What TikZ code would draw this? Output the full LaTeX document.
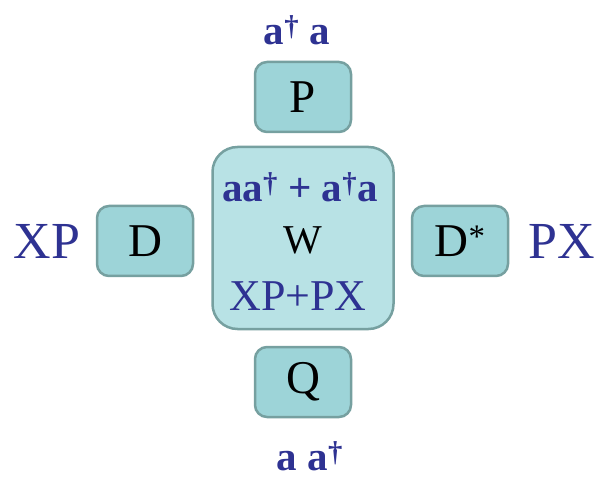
\documentclass[tikz,border=0pt]{standalone}
\usepackage{fontspec}
\setmainfont{Liberation Serif}
\definecolor{txtblue}{RGB}{46,50,146}
\definecolor{boxfill}{RGB}{157,212,216}
\definecolor{bigfill}{RGB}{184,226,229}
\definecolor{boxedge}{RGB}{118,160,160}
\begin{document}
\begin{tikzpicture}[x=1pt,y=-1pt,
  smallbox/.style={draw=boxedge, line width=2.5pt, fill=boxfill, rounded corners=12pt,
    minimum width=96pt, minimum height=70pt, inner sep=0pt, font=\fontsize{47}{47}\selectfont},
  bigbox/.style={draw=boxedge, line width=2.5pt, fill=bigfill, rounded corners=25pt,
    minimum width=181pt, minimum height=182pt, inner sep=0pt},
  bluelbl/.style={text=txtblue, inner sep=0pt, font=\fontsize{52}{52}\selectfont},
  opl/.style={text=txtblue, inner sep=0pt, font=\fontsize{41}{41}\selectfont\bfseries}
]
\useasboundingbox (0,0) rectangle (602,478);
\node[smallbox] (P) at (303,97) {P};
\node[smallbox] (Q) at (303,382) {Q};
\node[smallbox] (D) at (145,241) {D};
\node[smallbox] (Ds) at (460,241) {D\textsuperscript{*}};
\node[bigbox] (Wbox) at (303,238) {};
\node[inner sep=0pt, font=\fontsize{41}{41}\selectfont] (W) at (303,240) {W};
\node[opl] (top) at (300,187) {aa\textsuperscript{†} + a\textsuperscript{†}a};
\node[bluelbl, font=\fontsize{44}{44}\selectfont] (xppx) at (298,296) {XP+PX};
\node[opl] (adag) at (297,30) {a\textsuperscript{†} a};
\node[opl] (aad) at (310,456) {a a\textsuperscript{†}};
\node[bluelbl] (XP) at (47,241) {XP};
\node[bluelbl] (PX) at (562,241) {PX};
\end{tikzpicture}
\end{document}
